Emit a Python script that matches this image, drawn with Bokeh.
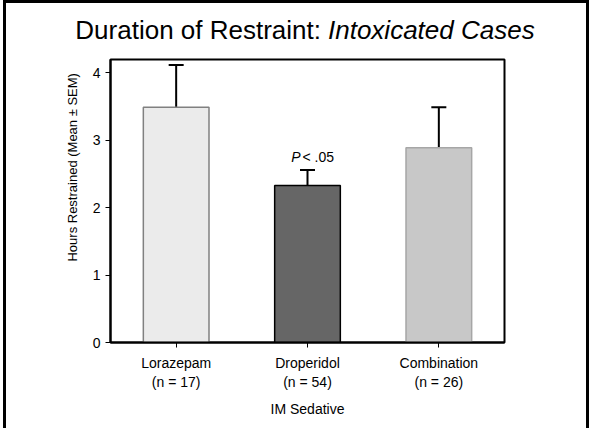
from bokeh.plotting import figure
from bokeh.layouts import column, row
from bokeh.models import (ColumnDataSource, FactorRange, Range1d, Whisker, TeeHead,
                          FixedTicker)
from bokeh.core.properties import value
from bokeh.embed import file_html
from bokeh.resources import INLINE

# ---- data ----
sedatives = ["Lorazepam", "Droperidol", "Combination"]
n_cases = [17, 54, 26]
mean_hours = [3.49, 2.33, 2.89]
sem_hours = [0.63, 0.23, 0.60]
y_ticks = [0, 1, 2, 3, 4]
fill_colors = ["#ebebeb", "#666666", "#c8c8c8"]
edge_colors = ["#808080", "#000000", "#a6a6a6"]
title_plain = "Duration of Restraint:"
title_italic = "Intoxicated Cases"
y_title = "Hours Restrained (Mean \u00b1 SEM)"
x_title = "IM Sedative"
p_note = ("P", "< .05")

factors = [f"{s}\n(n = {n})" for s, n in zip(sedatives, n_cases)]
upper = [m + s for m, s in zip(mean_hours, sem_hours)]
src = ColumnDataSource(dict(cat=factors, mean=mean_hours, upper=upper,
                            fill=fill_colors, edge=edge_colors))

FONT = "Liberation Sans"
W = 580
TITLE_H = 48
MAIN_H = 377
YLAB_W = 76
TOP_B, BOT_B = 8, 86
Y_TITLE_AT = 2.6      # vertical centre of the y title, in axis units (layout only)

# ---- title strip ----
t = figure(width=W, height=TITLE_H, x_range=Range1d(0, W), y_range=Range1d(0, TITLE_H),
           x_axis_type=None, y_axis_type=None, min_border=0,
           output_backend="svg", toolbar_location=None)
t.outline_line_color = None
t.grid.visible = False
tsrc = ColumnDataSource(dict(x=[W / 2 + 28], y=[22]))
t.text(x="x", y="y", text=value(title_plain), source=tsrc, text_align="right",
       text_baseline="alphabetic", text_font=value(FONT), text_font_size="26px",
       text_color="black", x_offset=-3.5)
t.text(x="x", y="y", text=value(title_italic), source=tsrc, text_align="left",
       text_baseline="alphabetic", text_font=value(FONT), text_font_size="26px",
       text_font_style="italic", text_color="black", x_offset=3.5)

# ---- main chart ----
p = figure(x_range=FactorRange(*factors, range_padding=0),
           y_range=Range1d(0, 4.2),
           width=W - YLAB_W, height=MAIN_H,
           min_border_left=28, min_border_right=82,
           min_border_top=TOP_B, min_border_bottom=BOT_B,
           output_backend="svg", toolbar_location=None)

p.vbar(x="cat", top="mean", bottom=0, width=0.5, source=src,
       fill_color="fill", line_color="edge", line_width=1.5)

wh = Whisker(source=src, base="cat", lower="mean", upper="upper",
             line_color="black", line_width=2,
             upper_head=TeeHead(size=15, line_width=2, line_color="black"),
             lower_head=None)
p.add_layout(wh)

ptxt = ColumnDataSource(dict(x=[factors[1]], y=[upper[1]]))
p.text(x="x", y="y", text=value(p_note[0]), source=ptxt, text_align="right",
       text_baseline="alphabetic", x_offset=-7, y_offset=-13,
       text_font=value(FONT), text_font_style="italic", text_font_size="14px",
       text_color="black")
p.text(x="x", y="y", text=value(p_note[1]), source=ptxt, text_align="left",
       text_baseline="alphabetic", x_offset=-5, y_offset=-13,
       text_font=value(FONT), text_font_size="14px", text_color="black")

p.xgrid.visible = False
p.ygrid.visible = False
p.outline_line_color = "black"
p.outline_line_width = 2
p.outline_line_alpha = 1

p.yaxis.ticker = FixedTicker(ticks=y_ticks)
p.yaxis.minor_tick_line_color = None
p.yaxis.major_tick_in = 0
p.yaxis.major_tick_out = 5
p.yaxis.major_label_standoff = 5
p.yaxis.axis_line_width = 2
p.yaxis.major_label_text_font = FONT
p.yaxis.major_label_text_font_size = "14px"
p.yaxis.major_label_text_color = "black"

p.xaxis.major_tick_in = 0
p.xaxis.major_tick_out = 5
p.xaxis.major_label_standoff = 7
p.xaxis.axis_line_width = 2
p.xaxis.major_label_text_font = FONT
p.xaxis.major_label_text_font_size = "14px"
p.xaxis.major_label_text_color = "black"
p.xaxis.axis_label = x_title
p.xaxis.axis_label_text_font = FONT
p.xaxis.axis_label_text_font_size = "14px"
p.xaxis.axis_label_text_font_style = "normal"
p.xaxis.axis_label_text_color = "black"
p.xaxis.axis_label_standoff = 8

# ---- y title strip (shares the chart's y range so it lines up with the frame) ----
yl = figure(width=YLAB_W, height=MAIN_H, x_range=Range1d(0, YLAB_W), y_range=p.y_range,
            x_axis_type=None, y_axis_type=None,
            min_border_left=0, min_border_right=0,
            min_border_top=TOP_B, min_border_bottom=BOT_B,
            output_backend="svg", toolbar_location=None)
yl.outline_line_color = None
yl.grid.visible = False
ysrc = ColumnDataSource(dict(x=[66], y=[Y_TITLE_AT]))
yl.text(x="x", y="y", text=value(y_title), source=ysrc, angle=1.5707963,
        text_align="center", text_baseline="middle", text_font=value(FONT),
        text_font_size="13px", text_color="black")

layout = column(t, row(yl, p, spacing=0), spacing=0,
                styles={"border-left": "3px solid black", "border-top": "3px solid black",
                        "border-right": "3px solid black", "margin-left": "3px"})

open("out.html", "w").write(file_html(layout, INLINE))
